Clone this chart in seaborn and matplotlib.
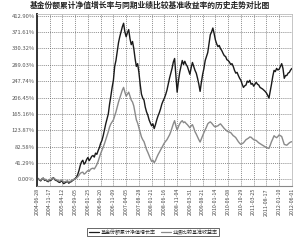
# -*- coding: utf-8 -*-
import numpy as np
import pandas as pd
import matplotlib
matplotlib.use("Agg")
import matplotlib.pyplot as plt
import seaborn as sns

sns.set_style("white")
plt.rcParams['font.family'] = ['Noto Sans CJK SC', 'DejaVu Sans']

TITLE = '基金份额累计净值增长率与同期业绩比较基准收益率的历史走势对比图'
SERIES_NAMES = ['基金份额累计净值增长率', '业绩比较基准收益率']

# 横轴日期刻度 (21 个)
tick_labels = ['2004-06-28', '2004-11-17', '2005-04-12', '2005-09-05', '2006-01-25',
               '2006-06-20', '2006-11-09', '2007-04-05', '2007-08-28', '2008-01-21',
               '2008-06-16', '2008-11-04', '2009-03-31', '2009-08-21', '2010-01-14',
               '2010-06-08', '2010-10-29', '2011-03-25', '2011-08-17', '2012-01-10',
               '2012-06-01']

# 纵轴刻度 (%)
y_ticks = [0.00, 41.29, 82.58, 123.87, 165.16, 206.45, 247.74, 289.03, 330.32, 371.61, 412.90]

# 每 0.1 个刻度间隔取一个点
step = 0.1

fund = [0, 2, -2, -4, 1, 3, -3, -1, -5, -6,
        -2, -3, 2, 4, -1, -3, -4, -7, -8, -4,
        -6, -11, -9, -7, -5, -10, -7, -6, -3, -1,
        2, 5, 12, 22, 35, 44, 48, 38, 42, 50,
        55, 47, 52, 58, 60, 56, 66, 63, 72, 80,
        91, 98, 110, 125, 140, 152, 165, 190, 210, 232,
        250, 285, 300, 322, 345, 360, 372, 385, 394, 372,
        360, 370, 378, 355, 340, 348, 330, 305, 285, 292,
        270, 240, 215, 205, 200, 182, 170, 162, 150, 142,
        135, 140, 128, 138, 150, 160, 168, 178, 190, 198,
        205, 214, 225, 240, 255, 268, 280, 296, 305, 262,
        220, 248, 270, 285, 300, 290, 298, 290, 285, 275,
        265, 282, 295, 285, 275, 268, 255, 240, 222, 245,
        265, 280, 300, 310, 320, 342, 365, 372, 382, 368,
        352, 342, 335, 338, 330, 325, 318, 312, 310, 302,
        300, 296, 290, 292, 285, 275, 268, 270, 262, 255,
        250, 240, 232, 236, 238, 248, 245, 250, 240, 242,
        235, 240, 245, 240, 238, 232, 230, 228, 225, 222,
        218, 212, 205, 222, 240, 260, 275, 272, 280, 276,
        278, 285, 292, 280, 255, 262, 262, 268, 270, 276,
        280]

bench = [0, 1, -1, -2, 2, 2, -1, 0, -3, -4,
         0, -1, 3, 3, 1, -1, -2, -4, -5, -2,
         -3, -7, -6, -5, -4, -7, -5, -4, -2, 0,
         1, 3, 6, 10, 15, 17, 18, 13, 15, 19,
         22, 20, 25, 27, 28, 26, 31, 37, 45, 55,
         65, 73, 81, 90, 100, 110, 120, 132, 140, 145,
         150, 160, 170, 183, 195, 205, 215, 225, 232, 220,
         210, 215, 220, 210, 200, 195, 185, 168, 150, 142,
         130, 118, 107, 100, 95, 85, 75, 68, 60, 52,
         45, 48, 42, 47, 55, 62, 68, 74, 80, 86,
         92, 96, 100, 106, 112, 120, 130, 140, 148, 135,
         124, 133, 140, 145, 148, 143, 145, 141, 138, 134,
         130, 135, 138, 130, 120, 114, 107, 100, 94, 102,
         110, 118, 125, 132, 140, 143, 145, 142, 138, 134,
         132, 134, 135, 138, 140, 136, 132, 128, 125, 122,
         120, 119, 118, 114, 110, 108, 105, 100, 95, 91,
         88, 90, 92, 96, 100, 102, 104, 107, 106, 103,
         100, 99, 98, 95, 92, 90, 88, 86, 84, 82,
         80, 79, 78, 86, 95, 102, 110, 107, 105, 108,
         112, 110, 108, 98, 88, 87, 86, 89, 92, 94,
         95]

t = np.arange(len(fund)) * step
df = pd.concat([
    pd.DataFrame({'t': t, 'value': fund, 'series': SERIES_NAMES[0]}),
    pd.DataFrame({'t': t, 'value': bench, 'series': SERIES_NAMES[1]}),
])

fig = plt.figure(figsize=(3.0, 2.4), dpi=100)
ax = fig.add_axes([0.123, 0.225, 0.850, 0.716])

ax.grid(True, color='#666666', linestyle=(0, (1.5, 1.5)), linewidth=0.5)
ax.set_axisbelow(True)

sns.lineplot(data=df, x='t', y='value', hue='series', hue_order=SERIES_NAMES,
             palette=['#1a1a1a', '#8a8a8a'], linewidth=1.0, ax=ax, legend=False)

ax.set_xlim(0, len(tick_labels) - 1)
ax.set_ylim(-17, 417)
ax.set_xticks(range(len(tick_labels)))
ax.set_xticklabels(tick_labels, rotation=90, fontsize=3.8, color='#444444')
ax.set_yticks(y_ticks)
ax.set_yticklabels([f'{v:.2f}%' for v in y_ticks], fontsize=4.2, color='#555555')
ax.tick_params(axis='both', length=0, pad=1.5)
ax.set_xlabel('')
ax.set_ylabel('')

for side in ['top', 'right']:
    ax.spines[side].set_color('#bbbbbb')
    ax.spines[side].set_linewidth(0.6)
ax.spines['bottom'].set_color('#888888')
ax.spines['bottom'].set_linewidth(0.8)
ax.spines['left'].set_color('#333333')
ax.spines['left'].set_linewidth(1.4)

fig.text(0.5, 0.997, TITLE, ha='center', va='top', fontsize=5.6, fontweight='bold', color='#222222')

handles = [plt.Line2D([0], [0], color='#1a1a1a', linewidth=0.9),
           plt.Line2D([0], [0], color='#8a8a8a', linewidth=0.9)]
leg = fig.legend(handles, SERIES_NAMES, loc='center', bbox_to_anchor=(0.51, 0.033),
                 ncol=2, fontsize=3.6, frameon=True, fancybox=False,
                 handlelength=2.0, handletextpad=0.4, columnspacing=1.0,
                 borderpad=0.3, borderaxespad=0)
leg.get_frame().set_edgecolor('#222222')
leg.get_frame().set_linewidth(0.6)

fig.savefig('out.png', dpi=100)
